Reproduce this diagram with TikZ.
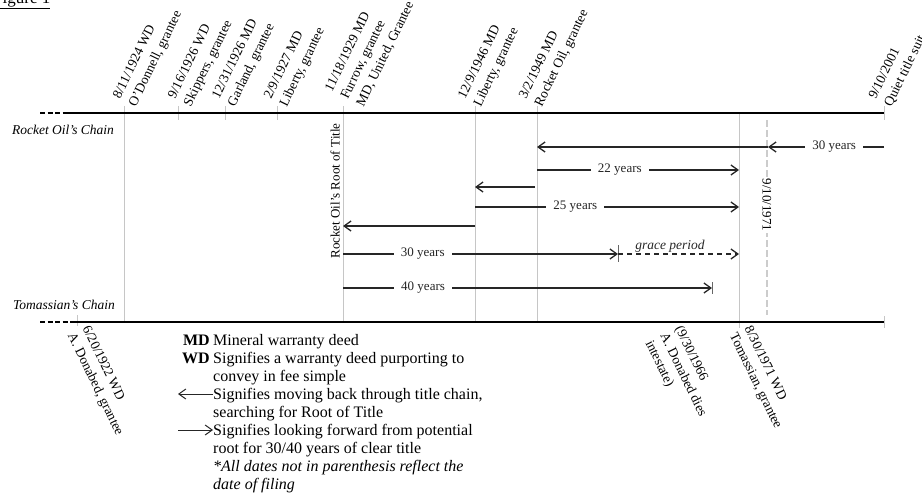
\documentclass[tikz,border=0pt]{standalone}
\usepackage{fontspec}
\setmainfont{Liberation Serif}
\usetikzlibrary{arrows.meta}
\begin{document}
\begin{tikzpicture}[x=1pt,y=-1pt,
    chainline/.style={line width=2.6pt},
    chainstub/.style={line width=2.2pt, dash pattern=on 5pt off 2.5pt},
    dateline/.style={gray!45, line width=0.8pt},
    tipbar/.style={black!60, line width=0.8pt},
    back/.style={line width=1.3pt, black!85, -{Straight Barb[length=7pt,width=10pt]}},
    yrs/.style={fill=white, inner xsep=7pt, inner ysep=1pt, font=\fontsize{13}{13}\selectfont},
    deedup/.style={rotate=64, anchor=south west, align=left, inner sep=1pt, font=\fontsize{13.5}{17.5}\selectfont},
    deeddown/.style={rotate=-64, anchor=north west, align=left, inner sep=1pt, font=\fontsize{13.5}{16.5}\selectfont},
    chainlbl/.style={font=\fontsize{13.5}{13.5}\itshape},
    legtxt/.style={anchor=base west, inner sep=0pt, font=\fontsize{16}{18}\selectfont},
    legkey/.style={anchor=base east, inner sep=0pt, font=\fontsize{16}{18}\bfseries}]
  \useasboundingbox (0,0) rectangle (922,493);
  % title, cut at the top edge
  \node[anchor=base west, inner sep=0pt, font=\fontsize{17}{17}\selectfont] (fig) at (-7,3) {\underline{Figure 1}};
  % date lines
  \foreach \x in {124,343,475,537} \draw[dateline] (\x,106) -- (\x,322);
  \draw[dateline] (739,113) -- (739,328);
  \foreach \x in {178,225,277,884} \draw[dateline] (\x,106) -- (\x,120);
  \draw[dateline] (77,315) -- (77,326);
  \draw[dateline] (884,316) -- (884,328);
  % the two chains
  \coordinate (rs) at (40,113); \coordinate (rm) at (68,113); \coordinate (re) at (884,113);
  \coordinate (ts) at (40,322); \coordinate (tm) at (72,322); \coordinate (te) at (884,322);
  \draw[chainstub] (rs) -- (rm);
  \draw[chainline] (rm) -- (re);
  \draw[chainstub] (ts) -- (tm);
  \draw[chainline] (tm) -- (te);
  \node[chainlbl] (rochain) at (63,130) {Rocket Oil’s Chain};
  \node[chainlbl] (tochain) at (64,305) {Tomassian’s Chain};
  % deeds on Rocket Oil's chain
  \node[deedup] (d1924) at (139,110) {8/11/1924 WD\\O’Donnell, grantee};
  \node[deedup] (d1926a) at (194,110) {9/16/1926 WD\\Skippers, grantee};
  \node[deedup] (d1926b) at (238,110) {12/31/1926 MD\\Garland, grantee};
  \node[deedup] (d1927) at (290,110) {2/9/1927 MD\\Liberty, grantee};
  \node[deedup] (d1929) at (366,110) {11/18/1929 MD\\Furrow, grantee\\MD, United, Grantee};
  \node[deedup] (d1946) at (484,110) {12/9/1946 MD\\Liberty, grantee};
  \node[deedup] (d1949) at (545,110) {3/2/1949 MD\\Rocket Oil, grantee};
  \node[deedup] (d2001) at (894,110) {9/10/2001\\Quiet title suit};
  % deeds on Tomassian's chain
  \node[deeddown] (d1922) at (91,323) {6/20/1922 WD\\A. Donabed, grantee};
  \node[deeddown] (d1966) at (684,323) {(9/30/1966\\A. Donabed dies\\intestate)};
  \node[deeddown] (d1971) at (753,323) {8/30/1971 WD\\Tomassian, grantee};
  % root of title and 30 years before the suit
  \node[rotate=90, inner sep=1pt, font=\fontsize{13}{13}\selectfont] (root) at (335,191) {Rocket Oil’s Root of Title};
  \coordinate (cut1) at (767,120); \coordinate (cut2) at (767,315);
  \draw[gray!40, line width=2.6pt, dash pattern=on 7pt off 3pt] (cut1) -- (cut2);
  \node[rotate=-90, fill=white, inner sep=2pt, font=\fontsize{13}{13}\selectfont] (cut) at (767,205) {9/10/1971};
  % searching back and looking forward
  \coordinate (a1) at (884,147); \coordinate (a2) at (768,147); \coordinate (a3) at (537,147);
  \draw[back] (a1) -- node[yrs, pos=0.43] {30 years} (a2);
  \draw[back] (a2) -- (a3);
  \coordinate (b1) at (537,170); \coordinate (b2) at (739,170);
  \draw[back] (b1) -- node[yrs, pos=0.41] {22 years} (b2);
  \coordinate (c1) at (535,187); \coordinate (c2) at (475,187);
  \draw[back] (c1) -- (c2);
  \coordinate (e1) at (475,207); \coordinate (e2) at (739,207);
  \draw[back] (e1) -- node[yrs, pos=0.38] {25 years} (e2);
  \coordinate (f1) at (475,226); \coordinate (f2) at (343,226);
  \draw[back] (f1) -- (f2);
  \coordinate (g1) at (343,254); \coordinate (g2) at (618,254); \coordinate (g3) at (739,254);
  \draw[back] (g1) -- node[yrs, pos=0.29] {30 years} (g2);
  \draw[tipbar] (618,245) -- (618,262);
  \draw[back, dash pattern=on 5pt off 4pt] (g2) -- node[above, inner sep=1pt, pos=0.43, font=\fontsize{13.5}{13.5}\itshape] (grace) {grace period} (g3);
  \coordinate (h1) at (343,288); \coordinate (h2) at (712,288);
  \draw[back] (h1) -- node[yrs, pos=0.217] {40 years} (h2);
  \draw[tipbar] (712,282) -- (712,294);
  % legend
  \node[legtxt] (l1) at (213,345) {Mineral warranty deed};
  \node[legkey] (kmd) at (210,345) {MD};
  \node[legtxt] (l2) at (213,363) {Signifies a warranty deed purporting to};
  \node[legkey] (kwd) at (210,363) {WD};
  \node[legtxt] (l3) at (213,381) {convey in fee simple};
  \node[legtxt] (l4) at (213,399) {Signifies moving back through title chain,};
  \coordinate (kb1) at (213,394); \coordinate (kb2) at (178,394);
  \draw[back, line width=1pt] (kb1) -- (kb2);
  \node[legtxt] (l5) at (213,417) {searching for Root of Title};
  \node[legtxt] (l6) at (213,435) {Signifies looking forward from potential};
  \coordinate (kf1) at (178,430); \coordinate (kf2) at (213,430);
  \draw[back, line width=1pt] (kf1) -- (kf2);
  \node[legtxt] (l7) at (213,453) {root for 30/40 years of clear title};
  \node[legtxt, font=\fontsize{16}{18}\itshape] (l8) at (213,471) {*All dates not in parenthesis reflect the};
  \node[legtxt, font=\fontsize{16}{18}\itshape] (l9) at (213,489) {date of filing};
\end{tikzpicture}
\end{document}
